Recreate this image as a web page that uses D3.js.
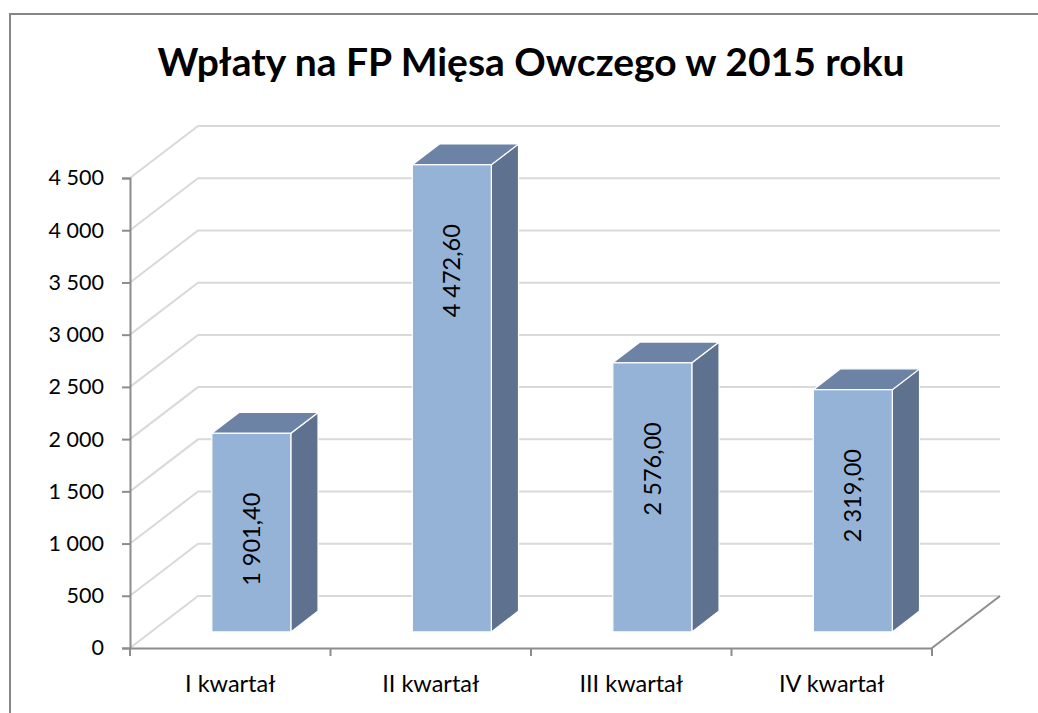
<!DOCTYPE html>
<html>
<head>
<meta charset="utf-8">
<script src="https://cdn.jsdelivr.net/npm/d3@7"></script>
<style>
  body { margin: 0; background: #fff; }
  text { font-family: Lato, "Open Sans", sans-serif; }
</style>
</head>
<body>
<div class="chart"></div>
<script>
var width = 1038,
    height = 713;

var categories = ["I kwartał", "II kwartał", "III kwartał", "IV kwartał"];
var values = [1901.40, 4472.60, 2576.00, 2319.00];
var valueLabels = ["1 901,40", "4 472,60", "2 576,00", "2 319,00"];
var yTicks = [0, 500, 1000, 1500, 2000, 2500, 3000, 3500, 4000, 4500];
var title = "Wpłaty na FP Mięsa Owczego w 2015 roku";

var svg = d3.select(".chart").append("svg")
    .attr("width", width)
    .attr("height", height);

// outer frame (cut off on the right and bottom like the picture)
svg.append("rect")
    .attr("x", 10)
    .attr("y", 14)
    .attr("width", 1040)
    .attr("height", 720)
    .style("fill", "none")
    .style("stroke", "#878787")
    .style("stroke-width", 2);

svg.append("text")
    .attr("x", 531)
    .attr("y", 76)
    .attr("text-anchor", "middle")
    .style("font-size", "39px")
    .style("font-weight", "bold")
    .style("fill", "#000")
    .text(title);

var x = d3.scaleBand()
    .domain(categories)
    .range([130, 932]);

var y = d3.scaleLinear()
    .domain([0, 4500])
    .range([648, 178]);

// depth of the 3d box
var depthX = 68,
    depthY = -52;
var front = 0.31,
    back = 0.71;
var barW = x.bandwidth() * 0.394;

var grid = svg.append("g");

yTicks.forEach(function (t) {
    grid.append("polyline")
        .attr("points", [
            [130, y(t)],
            [130 + depthX, y(t) + depthY],
            [932 + depthX, y(t) + depthY]
        ].join(" "))
        .style("fill", "none")
        .style("stroke", "#d9d9d9")
        .style("stroke-width", 2);
});

// right edge of floor
svg.append("line")
    .attr("x1", 932)
    .attr("y1", y(0))
    .attr("x2", 932 + depthX)
    .attr("y2", y(0) + depthY)
    .style("stroke", "#8c8c8c")
    .style("stroke-width", 2);

var bars = svg.append("g");

categories.forEach(function (c, i) {
    var x0 = x(c) + x.bandwidth() / 2 - barW / 2 + depthX * front;
    var x1 = x0 + barW;
    var yb = y(0) + depthY * front;
    var yt = y(values[i]) + depthY * front;
    var dx = depthX * (back - front),
        dy = depthY * (back - front);

    // side face
    bars.append("polygon")
        .attr("points", [[x1, yb], [x1 + dx, yb + dy], [x1 + dx, yt + dy], [x1, yt]].join(" "))
        .style("fill", "#5e7290")
        .style("stroke", "#fff")
        .style("stroke-width", 1.2);

    // top face
    bars.append("polygon")
        .attr("points", [[x0, yt], [x1, yt], [x1 + dx, yt + dy], [x0 + dx, yt + dy]].join(" "))
        .style("fill", "#6c83a5")
        .style("stroke", "#fff")
        .style("stroke-width", 1.2);

    // front face
    bars.append("rect")
        .attr("x", x0)
        .attr("y", yt)
        .attr("width", barW)
        .attr("height", yb - yt)
        .style("fill", "#95b3d7")
        .style("stroke", "#fff")
        .style("stroke-width", 1.2);

    bars.append("text")
        .attr("transform", "translate(" + (x0 + barW / 2) + "," + (yt + 106) + ") rotate(-90)")
        .attr("text-anchor", "middle")
        .attr("dy", "0.35em")
        .style("font-size", "23.5px")
        .style("fill", "#000")
        .text(valueLabels[i]);
});

// y axis
var yAxis = svg.append("g")
    .attr("transform", "translate(130,0)")
    .call(d3.axisLeft(y)
        .tickValues(yTicks)
        .tickSize(8)
        .tickPadding(18)
        .tickFormat(function (d) { return d3.format(",")(d).replace(/,/g, " "); }));

yAxis.select(".domain")
    .style("stroke", "#8c8c8c")
    .style("stroke-width", 2);
yAxis.selectAll(".tick line")
    .style("stroke", "#8c8c8c")
    .style("stroke-width", 2);
yAxis.selectAll(".tick text")
    .style("font-family", "Lato, sans-serif")
    .style("font-size", "21.5px")
    .style("fill", "#000");

// x axis
var xAxis = svg.append("g")
    .attr("transform", "translate(0,648)")
    .call(d3.axisBottom(x).tickSize(0).tickPadding(27));

xAxis.select(".domain")
    .style("stroke", "#8c8c8c")
    .style("stroke-width", 2);
xAxis.selectAll(".tick text")
    .style("font-family", "Lato, sans-serif")
    .style("font-size", "23.5px")
    .style("fill", "#000");

// ticks between categories
xAxis.selectAll(".sep")
    .data(categories.concat(["end"]))
    .enter().append("line")
    .attr("class", "sep")
    .attr("x1", function (d, i) { return i < categories.length ? x(d) : x.range()[1]; })
    .attr("x2", function (d, i) { return i < categories.length ? x(d) : x.range()[1]; })
    .attr("y1", 0)
    .attr("y2", 8)
    .style("stroke", "#8c8c8c")
    .style("stroke-width", 2);
</script>
</body>
</html>
